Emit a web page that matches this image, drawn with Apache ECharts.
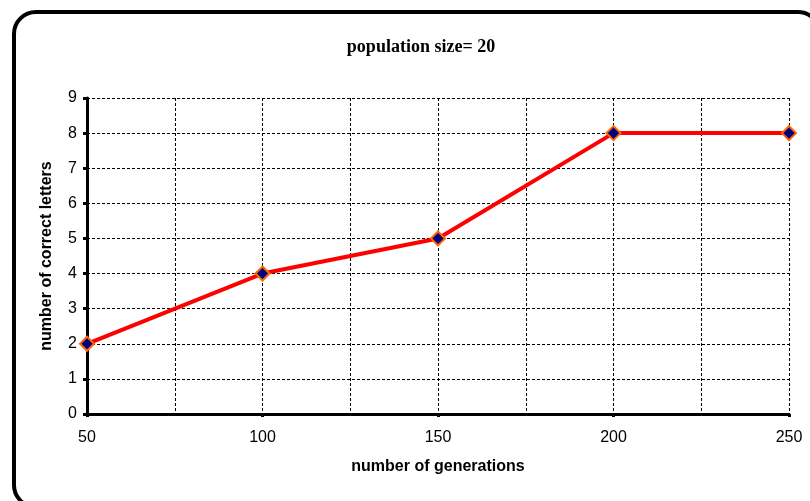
<!DOCTYPE html>
<html>
<head>
<meta charset="utf-8">
<script src="https://cdn.jsdelivr.net/npm/echarts@6/dist/echarts.min.js"></script>
<style>html,body{margin:0;padding:0;background:#fff;}#c{width:810px;height:501px;}</style>
</head>
<body>
<div id="c"></div>
<script>
const generations = [50, 100, 150, 200, 250];
const correctLetters = [2, 4, 5, 8, 8];
const titleText = 'population size= 20';
const xName = 'number of generations';
const yName = 'number of correct letters';

const chart = echarts.init(document.getElementById('c'), null, {renderer: 'canvas'});
chart.setOption({
  backgroundColor: '#fff',
  animation: false,
  graphic: [{
    type: 'rect',
    shape: {x: 14, y: 12, width: 806, height: 495, r: 22},
    style: {fill: 'none', stroke: '#000', lineWidth: 4},
    z: -1
  }],
  title: {
    text: titleText,
    left: 416, top: 33, textAlign: 'center',
    textStyle: {fontFamily: 'Liberation Serif', fontWeight: 'bold', fontSize: 18, color: '#000'}
  },
  grid: {left: 87, right: 21, top: 98, bottom: 87},
  xAxis: {
    type: 'value', min: 50, max: 250, interval: 50,
    name: xName, nameLocation: 'middle', nameGap: 45,
    nameTextStyle: {fontFamily: 'Liberation Sans', fontWeight: 'bold', fontSize: 16, color: '#000'},
    axisLine: {lineStyle: {color: '#000', width: 3}},
    axisTick: {show: true, length: 3, lineStyle: {color: '#000', width: 3}},
    axisLabel: {margin: 16, fontFamily: 'Liberation Sans', fontSize: 16, color: '#000'},
    splitLine: {show: true, lineStyle: {color: '#000', type: [3, 2], width: 1}},
    minorTick: {show: false, splitNumber: 2},
    minorSplitLine: {show: true, lineStyle: {color: '#000', type: [3, 2], width: 1}}
  },
  yAxis: {
    type: 'value', min: 0, max: 9, interval: 1,
    name: yName, nameLocation: 'middle', nameGap: 32,
    nameTextStyle: {fontFamily: 'Liberation Sans', fontWeight: 'bold', fontSize: 16, color: '#000'},
    axisLine: {show: true, lineStyle: {color: '#000', width: 3}},
    axisTick: {show: true, length: 4, lineStyle: {color: '#000', width: 3}},
    axisLabel: {margin: 10, fontFamily: 'Liberation Sans', fontSize: 16, color: '#000'},
    splitLine: {show: true, lineStyle: {color: '#000', type: [3, 2], width: 1}}
  },
  series: [{
    type: 'line',
    data: generations.map((g, i) => [g, correctLetters[i]]),
    lineStyle: {color: '#ff0000', width: 4},
    symbol: 'diamond', symbolSize: 14,
    itemStyle: {color: '#000080', borderColor: '#ff6600', borderWidth: 2},
    z: 5
  }]
});
</script>
</body>
</html>
